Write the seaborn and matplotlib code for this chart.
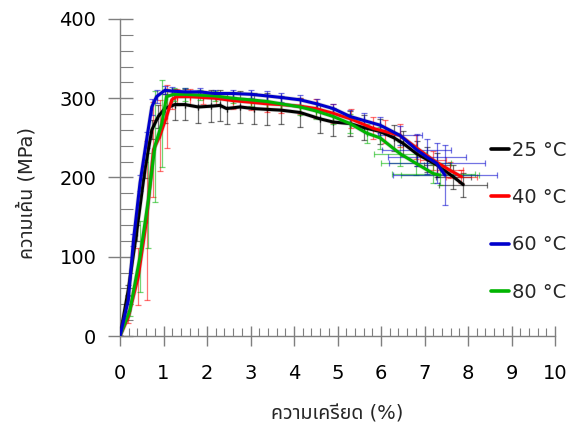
import matplotlib
matplotlib.use("Agg")
import matplotlib.pyplot as plt
import matplotlib.patheffects as pe
from matplotlib import font_manager
from matplotlib.ft2font import FT2Font
from matplotlib.ticker import MultipleLocator
import seaborn as sns

# Stress-strain curves at four test temperatures
labels = ["25 °C", "40 °C", "60 °C", "80 °C"]
colors = ["#000000", "#ff0000", "#0000cc", "#00b400"]

strain_25 = [0, 0.19, 0.38, 0.57, 0.73, 0.88, 1.03, 1.26, 1.49, 1.8, 2.1, 2.3, 2.45,
             2.76, 3.07, 3.37, 3.7, 4.14, 4.6, 4.9, 5.29, 5.6, 5.98, 6.3, 6.51, 6.82,
             7.05, 7.28, 7.66, 7.89]
stress_25 = [0, 58, 130, 209, 260, 277, 287, 292, 292, 289, 290, 291, 287,
             289, 287, 286, 285, 282, 274, 270, 268, 263, 258, 250, 243, 230,
             223, 216, 201, 191]
yerr_25 = [0, 6, 10, 10, 12, 15, 18, 20, 20, 20, 20, 20, 20,
           20, 20, 20, 18, 18, 18, 18, 16, 16, 16, 16, 16, 16,
           16, 15, 15, 15]
xerr_25 = [0] * 27 + [0.3, 0.4, 0.55]

strain_40 = [0, 0.19, 0.42, 0.61, 0.77, 0.92, 1.07, 1.19, 1.30, 1.6, 1.9, 2.2, 2.6,
             3.0, 3.37, 3.7, 4.14, 4.5, 4.9, 5.3, 5.82, 6.1, 6.44, 6.8, 7.2, 7.59, 7.85]
stress_40 = [0, 24, 75, 146, 235, 253, 277, 298, 302, 302, 301, 300, 297,
             295, 293, 292, 290, 287, 281, 274, 262, 258, 253, 238, 222, 209, 201]
yerr_40 = [0, 8, 36, 100, 60, 45, 40, 12, 10, 10, 8, 8, 10,
           10, 10, 10, 10, 12, 12, 12, 14, 14, 15, 15, 12, 10, 8]
xerr_40 = [0] * 24 + [0.3, 0.3, 0.35]

strain_60 = [0, 0.19, 0.31, 0.46, 0.61, 0.73, 0.84, 1.03, 1.19, 1.5, 1.84, 2.18, 2.6,
             3.0, 3.37, 3.7, 4.14, 4.52, 4.9, 5.29, 5.6, 5.98, 6.44, 6.82, 7.05, 7.28, 7.47]
stress_60 = [0, 45, 121, 193, 247, 289, 302, 310, 309, 308, 308, 306, 306,
             305, 303, 301, 298, 293, 287, 277, 272, 266, 253, 235, 226, 218, 203]
yerr_60 = [0, 5, 8, 10, 10, 10, 8, 5, 5, 5, 5, 5, 5,
           5, 6, 6, 6, 6, 6, 8, 10, 10, 12, 20, 22, 25, 38]
xerr_60 = [0] * 22 + [0.5, 0.8, 0.9, 1.1, 1.2]

strain_80 = [0, 0.23, 0.46, 0.65, 0.80, 0.96, 1.07, 1.23, 1.5, 1.84, 2.18, 2.6, 3.0,
             3.37, 3.7, 4.14, 4.5, 4.9, 5.29, 5.67, 5.98, 6.44, 6.8, 7.2, 7.35]
stress_80 = [0, 33, 100, 171, 239, 268, 302, 305, 305, 304, 303, 300, 298,
             296, 293, 289, 284, 277, 268, 256, 250, 230, 218, 205, 203]
yerr_80 = [0, 8, 45, 60, 70, 55, 10, 8, 8, 6, 6, 6, 8,
           8, 8, 10, 10, 10, 12, 12, 14, 15, 15, 12, 12]
xerr_80 = [0] * 21 + [0.6, 0.8, 0.95, 0.9]

x_ticks = list(range(0, 11))
y_ticks = [0, 100, 200, 300, 400]
x_label = "ความเครียด (%)"
y_label = "ความเค้น (MPa)"


def thai_font():
    """Return the name of an installed font that covers Thai script."""
    sample = "ความเค้นรียด"
    preferred = ["Tahoma", "Noto Sans Thai", "Noto Sans Thai UI", "Loma", "Garuda",
                 "Tlwg Typo", "Kinnari", "Norasi", "Sawasdee"]
    entries = sorted(font_manager.fontManager.ttflist,
                     key=lambda f: preferred.index(f.name) if f.name in preferred else 99)
    for f in entries:
        try:
            cmap = FT2Font(f.fname).get_charmap()
        except Exception:
            continue
        if all(ord(c) in cmap for c in sample):
            return f.name
    return None


sns.set_theme(style="white")
families = ["DejaVu Sans"]
tf = thai_font()
if tf:
    families.append(tf)
plt.rcParams["font.family"] = families

fig = plt.figure(figsize=(5.71, 4.36), dpi=100)
ax = fig.add_axes([120 / 571, 1 - 336 / 436, 435 / 571, 317 / 436])

series = [
    (strain_25, stress_25, yerr_25, xerr_25),
    (strain_40, stress_40, yerr_40, xerr_40),
    (strain_80, stress_80, yerr_80, xerr_80),
    (strain_60, stress_60, yerr_60, xerr_60),
]
order = [0, 1, 3, 2]
halo = [pe.Stroke(linewidth=3.2, foreground="#666666", alpha=0.25), pe.Normal()]

for k, (sx, sy, ye, xe) in zip(order, series):
    ax.errorbar(sx, sy, yerr=ye, xerr=xe, fmt="none", ecolor=colors[k], alpha=0.55,
                elinewidth=0.9, capsize=2.5, capthick=0.9, zorder=2)
for k, (sx, sy, ye, xe) in zip(order, series):
    sns.lineplot(x=sx, y=sy, sort=False, estimator=None, color=colors[k],
                 linewidth=2.2, ax=ax, zorder=3, path_effects=halo)

ax.set_xlim(0, 10)
ax.set_ylim(0, 400)
ax.set_xticks(x_ticks)
ax.set_yticks(y_ticks)
ax.xaxis.set_minor_locator(MultipleLocator(0.2))
ax.yaxis.set_minor_locator(MultipleLocator(20))

for side in ["top", "right"]:
    ax.spines[side].set_visible(False)
for side in ["left", "bottom"]:
    ax.spines[side].set_color("#7f7f7f")
    ax.spines[side].set_linewidth(1.0)

ax.tick_params(which="both", bottom=True, left=True, top=False, right=False)
ax.tick_params(axis="x", which="major", direction="inout", length=14, width=1,
               color="#7f7f7f", labelsize=14, pad=13, labelcolor="black")
ax.tick_params(axis="x", which="minor", direction="in", length=6, width=0.8,
               color="#7f7f7f")
ax.tick_params(axis="y", which="major", direction="inout", length=18, width=1,
               color="#7f7f7f", labelsize=14, pad=8, labelcolor="black")
ax.tick_params(axis="y", which="minor", direction="in", length=9, width=0.8,
               color="#7f7f7f")

ax.set_xlabel(x_label, fontsize=14, va="center", ha="center")
ax.set_ylabel(y_label, fontsize=14, va="center", ha="center")
ax.xaxis.set_label_coords(0.5, (336 - 414) / 317)
ax.yaxis.set_label_coords((27 - 120) / 435, (336 - 193) / 317)

handles = [plt.Line2D([], [], color=c, linewidth=2.6) for c in colors]
fig.legend(handles, labels, loc="upper left",
           bbox_to_anchor=(491 / 571, 1 - 141 / 436), frameon=False, fontsize=14,
           handlelength=0.95, handletextpad=0.15, labelspacing=1.45,
           borderpad=0, borderaxespad=0)

fig.savefig("out.png", dpi=100)
